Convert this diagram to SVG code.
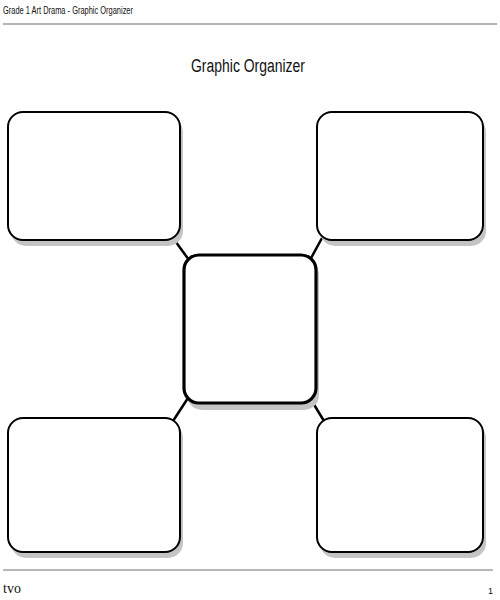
<svg xmlns="http://www.w3.org/2000/svg" width="500" height="600" viewBox="0 0 500 600">
<style>
.shadow{fill:#c4c4c4;stroke:none}
.box{fill:#fff;stroke:#000;stroke-width:2}
.center{fill:#fff;stroke:#000;stroke-width:3.2}
.conn{stroke:#000;stroke-width:2.5;fill:none}
.rule{stroke:#6e6e6e;stroke-width:1.2}
text{font-family:"Liberation Sans Narrow","Liberation Sans",Arial,sans-serif;fill:#111}
</style>
<rect width="500" height="600" fill="#fff"/>
<text x="3" y="14" font-size="10.5" textLength="130" lengthAdjust="spacingAndGlyphs">Grade 1 Art Drama - Graphic Organizer</text>
<line class="rule" x1="3" y1="24" x2="497" y2="24"/>
<text x="248" y="72" font-size="18" text-anchor="middle" textLength="114" lengthAdjust="spacingAndGlyphs" style="font-family:'Liberation Sans',sans-serif">Graphic Organizer</text>
<g id="connectors">
<line class="conn" x1="173" y1="238" x2="189" y2="260"/>
<line class="conn" x1="322" y1="238" x2="310" y2="260"/>
<line class="conn" x1="188" y1="398" x2="173" y2="421"/>
<line class="conn" x1="310" y1="398" x2="324" y2="421"/>
</g>
<g id="node-top-left">
<rect class="shadow" x="11" y="117" width="172" height="129" rx="15"/>
<rect class="box" x="8" y="112" width="172" height="128" rx="15"/>
</g>
<g id="node-top-right">
<rect class="shadow" x="320" y="117" width="166" height="129" rx="15"/>
<rect class="box" x="317" y="112" width="166" height="128" rx="15"/>
</g>
<g id="node-center">
<rect class="shadow" x="187" y="260" width="132" height="150" rx="15"/>
<rect class="center" x="184" y="255" width="132" height="148" rx="15"/>
</g>
<g id="node-bottom-left">
<rect class="shadow" x="11" y="423" width="172" height="135" rx="15"/>
<rect class="box" x="8" y="418" width="172" height="134" rx="15"/>
</g>
<g id="node-bottom-right">
<rect class="shadow" x="320" y="423" width="166" height="135" rx="15"/>
<rect class="box" x="317" y="418" width="166" height="134" rx="15"/>
</g>
<line class="rule" x1="3" y1="570" x2="493" y2="570"/>
<text x="3" y="593" font-size="14" style="font-family:'Liberation Serif',serif">tvo</text>
<text x="493" y="594" font-size="9" text-anchor="end">1</text>
</svg>
